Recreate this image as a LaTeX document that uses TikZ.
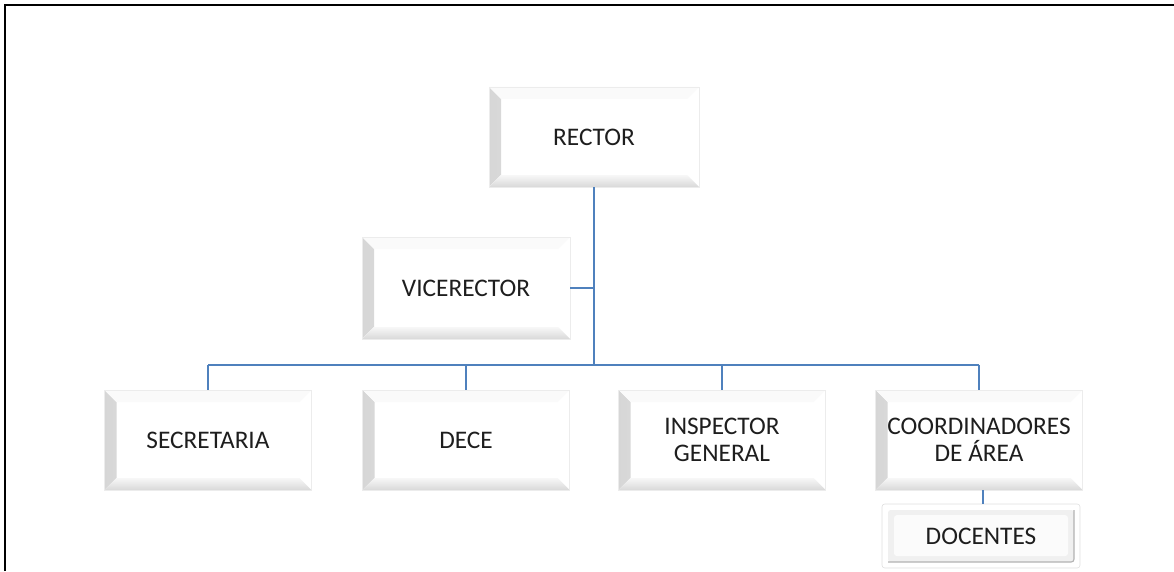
\documentclass[tikz,border=0pt]{standalone}
\usepackage{fontspec}
\setmainfont{Carlito}
\usetikzlibrary{calc}
\definecolor{linkblue}{RGB}{79,129,189}
\definecolor{txtgray}{RGB}{30,30,30}
\begin{document}
\begin{tikzpicture}[
    x=1cm,y=1cm,
    every node/.style={font=\fontsize{18}{19.5}\selectfont, text=txtgray},
    bevel/.style={draw=gray!15, fill=white, align=center, inner sep=0pt,
        minimum width=5.175cm, minimum height=2.5cm,
        path picture={
            \fill[left color=gray!32, right color=gray!4]
                (path picture bounding box.south west) -- (path picture bounding box.north west)
                -- ([shift={(0.3,-0.3)}]path picture bounding box.north west)
                -- ([shift={(0.3,0.3)}]path picture bounding box.south west) -- cycle;
            \fill[bottom color=gray!30, top color=gray!6]
                (path picture bounding box.south west) -- (path picture bounding box.south east)
                -- ([shift={(-0.3,0.3)}]path picture bounding box.south east)
                -- ([shift={(0.3,0.3)}]path picture bounding box.south west) -- cycle;
            \fill[gray!4]
                (path picture bounding box.north west) -- (path picture bounding box.north east)
                -- ([shift={(-0.3,-0.3)}]path picture bounding box.north east)
                -- ([shift={(0.3,-0.3)}]path picture bounding box.north west) -- cycle;
        }},
    button/.style={draw=gray!25, fill=white, rounded corners=2pt, inner sep=0pt,
        minimum width=4.95cm, minimum height=1.6cm,
        path picture={
            \fill[gray!12] ([shift={(0.15,0.15)}]path picture bounding box.south west)
                rectangle ([shift={(-0.15,-0.15)}]path picture bounding box.north east);
            \fill[gray!3] ([shift={(0.3,0.3)}]path picture bounding box.south west)
                rectangle ([shift={(-0.3,-0.28)}]path picture bounding box.north east);
            \draw[gray!60, line width=0.8pt] ([shift={(0.15,0.15)}]path picture bounding box.south west)
                -- ([shift={(-0.15,0.15)}]path picture bounding box.south east)
                -- ([shift={(-0.15,-0.15)}]path picture bounding box.north east);
        }},
    link/.style={draw=linkblue, line width=1.1pt}
]
    \useasboundingbox (0,0) rectangle (29.35,14.275);

    % page frame (top and left edges)
    \draw[line width=1.6pt] (0.125,0) -- (0.125,14.15) -- (29.35,14.15);

    \node[bevel, minimum width=5.25cm] (rector) at (14.85,10.85) {RECTOR};
    \node[bevel, minimum width=5.2cm, minimum height=2.55cm] (vice) at (11.65,7.075) {VICERECTOR};

    \node[bevel] (sec) at (5.2,3.275) {SECRETARIA};
    \node[bevel] (dece) at (11.65,3.275) {DECE};
    \node[bevel] (insp) at (18.05,3.275) {INSPECTOR\\GENERAL};
    \node[bevel] (coord) at (24.475,3.275) {COORDINADORES\\DE ÁREA};
    \node[button] (doc) at (24.525,0.875) {DOCENTES};

    \coordinate (bus) at (14.85,5.15);

    \draw[link] (rector.south) -- (bus);
    \draw[link] (vice.east) -- (vice.east -| bus);
    \draw[link] (sec.north |- bus) -- (coord.north |- bus);
    \foreach \n in {sec,dece,insp,coord} {
        \draw[link] (\n.north |- bus) -- (\n.north);
    }
    \draw[link] ([xshift=0.1cm]coord.south) -- ([xshift=0.1cm]coord.south |- doc.north);
\end{tikzpicture}
\end{document}
